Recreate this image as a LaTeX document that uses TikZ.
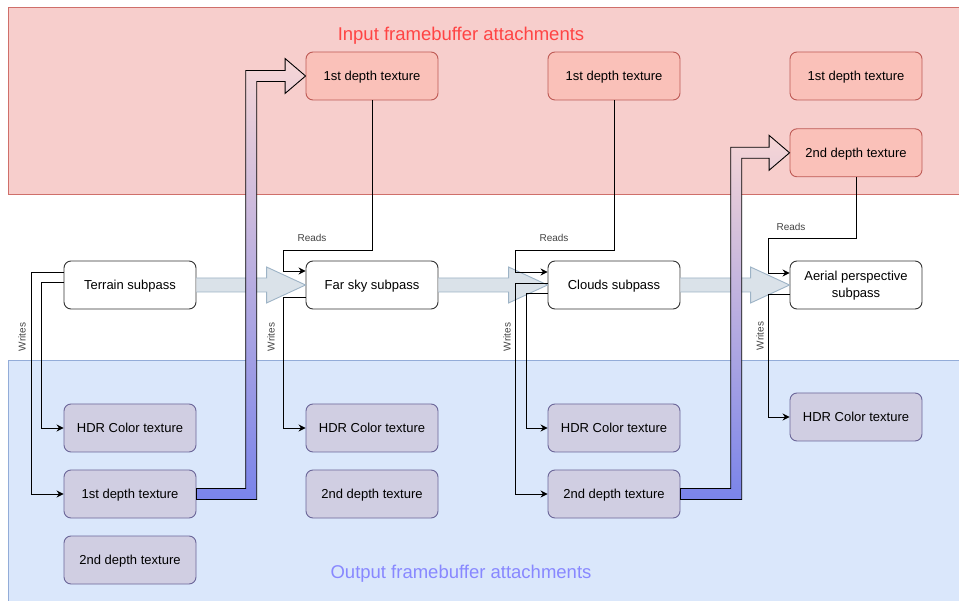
\documentclass[tikz,border=0pt]{standalone}
\usepackage{fontspec}
\setmainfont{Liberation Sans}
\usetikzlibrary{arrows.meta,calc}
\definecolor{pinkbg}{HTML}{F7CECC}
\definecolor{pinkln}{HTML}{CF6F6A}
\definecolor{bluebg}{HTML}{DAE7FB}
\definecolor{blueln}{HTML}{93ACD8}
\definecolor{infill}{HTML}{FAC1B9}
\definecolor{inln}{HTML}{BE5A55}
\definecolor{outfill}{HTML}{D0CEE2}
\definecolor{outln}{HTML}{6B6699}
\definecolor{passln}{HTML}{333333}
\definecolor{flexfill}{HTML}{DAE2E9}
\definecolor{flexln}{HTML}{9DB3C6}
\definecolor{titlered}{HTML}{FF4444}
\definecolor{titleblue}{HTML}{8888FF}
\definecolor{lblgray}{HTML}{444444}
\definecolor{fattop}{HTML}{F6D6D6}
\definecolor{fatbot}{HTML}{7A84EA}
\newcommand\flexarr[2]{%
  \fill[flexfill] ($(#1.east)+(0,-7)$) -- ($(#2.west)+(-39,-7)$) -- ($(#2.west)+(-39,-18)$) -- (#2.west) -- ($(#2.west)+(-39,18)$) -- ($(#2.west)+(-39,7)$) -- ($(#1.east)+(0,7)$) -- cycle;
  \draw[flexln, line width=0.9pt, line join=miter] ($(#1.east)+(0,-7)$) -- ($(#2.west)+(-39,-7)$) -- ($(#2.west)+(-39,-18)$) -- (#2.west) -- ($(#2.west)+(-39,18)$) -- ($(#2.west)+(-39,7)$) -- ($(#1.east)+(0,7)$);
}
\newcommand\fatarr[3]{%
  \path[draw=black, line width=0.9pt, top color=fattop, bottom color=fatbot] let \p1=(#1.east), \p2=(#2.west) in
  (\x1,\y1+5.5pt) -- (#3pt-5.5pt,\y1+5.5pt) -- (#3pt-5.5pt,\y2+5.5pt) -- (\x2-20.5pt,\y2+5.5pt) -- (\x2-20.5pt,\y2+17.5pt) -- (\x2,\y2) -- (\x2-20.5pt,\y2-17.5pt) -- (\x2-20.5pt,\y2-5.5pt) -- (#3pt+5.5pt,\y2-5.5pt) -- (#3pt+5.5pt,\y1-5.5pt) -- (\x1,\y1-5.5pt) -- cycle;
}
\begin{document}
\begin{tikzpicture}[x=1pt,y=-1pt,
  passbox/.style={draw=passln, fill=white, rounded corners=7pt, minimum width=132pt, minimum height=48pt, inner sep=0pt, font=\fontsize{13}{16.5}\selectfont, text=black, line width=0.9pt, align=center, text depth=1pt},
  inbox/.style={passbox, draw=inln, fill=infill},
  outbox/.style={passbox, draw=outln, fill=outfill},
  wire/.style={draw=black, line width=0.9pt, -{Stealth[length=7pt,width=7pt]}},
  lbl/.style={font=\fontsize{10}{12}\selectfont, text=lblgray, inner sep=0pt},
  ttl/.style={font=\fontsize{18.5}{22}\selectfont, inner sep=0pt}]
\useasboundingbox (0,0) rectangle (959,601);
\fill[white] (0,0) rectangle (959,601);
% backgrounds
\draw[fill=pinkbg, draw=pinkln, line width=0.8pt] (8,7) rectangle (970,194);
\draw[fill=bluebg, draw=blueln, line width=0.8pt] (8,360) rectangle (970,615);
\node[ttl, text=titlered] (tin) at (461,35.5) {Input framebuffer attachments};
\node[ttl, text=titleblue] (tout) at (461,573.5) {Output framebuffer attachments};
% passes
\node[passbox] (terrain) at (130,285) {Terrain subpass};
\node[passbox] (sky) at (372,285) {Far sky subpass};
\node[passbox] (clouds) at (614,285) {Clouds subpass};
\node[passbox] (aerial) at (856,285) {Aerial perspective\\subpass};
% inputs
\node[inbox] (i1) at (372,76) {1st depth texture};
\node[inbox] (i2) at (614,76) {1st depth texture};
\node[inbox] (i3) at (856,76) {1st depth texture};
\node[inbox] (i4) at (856,152.8) {2nd depth texture};
% outputs
\node[outbox] (o1h) at (130,428) {HDR Color texture};
\node[outbox] (o1d) at (130,494) {1st depth texture};
\node[outbox] (o1e) at (130,560) {2nd depth texture};
\node[outbox] (o2h) at (372,428) {HDR Color texture};
\node[outbox] (o2d) at (372,494) {2nd depth texture};
\node[outbox] (o3h) at (614,428) {HDR Color texture};
\node[outbox] (o3d) at (614,494) {2nd depth texture};
\node[outbox] (o4h) at (856,417) {HDR Color texture};
% flow arrows
\flexarr{terrain}{sky}
\flexarr{sky}{clouds}
\flexarr{clouds}{aerial}
% fat gradient arrows
\fatarr{o1d}{i1}{251.2}
\fatarr{o3d}{i4}{736.2}
% column 1
\draw[wire] ([yshift=13pt]terrain.west) -- ++(-32,0) |- (o1d.west);
\draw[wire] ([yshift=3pt]terrain.west) -- ++(-22,0) |- (o1h.west);
\node[lbl, rotate=90] (w1) at (22,337) {Writes};
% column 2
\draw[wire] (i1.south) -- ++(0,150) -| ([xshift=-22pt,yshift=14pt]sky.west) -- ([yshift=14pt]sky.west);
\node[lbl] (r2) at (312,238) {Reads};
\draw[wire] ([yshift=-12pt]sky.west) -- ++(-22,0) |- (o2h.west);
\node[lbl, rotate=90] (w2) at (271,337) {Writes};
% column 3
\draw[wire] (i2.south) -- ++(0,150) -| ([xshift=-32pt,yshift=13pt]clouds.west) -- ([yshift=13pt]clouds.west);
\node[lbl] (r3) at (554,238) {Reads};
\draw[wire] ([yshift=2pt]clouds.west) -- ++(-32,0) |- (o3d.west);
\draw[wire] ([yshift=-8pt]clouds.west) -- ++(-21,0) |- (o3h.west);
\node[lbl, rotate=90] (w3) at (507,337) {Writes};
% column 4
\draw[wire] (i4.south) -- ++(0,61) -| ([xshift=-21pt,yshift=12pt]aerial.west) -- ([yshift=12pt]aerial.west);
\node[lbl] (r4) at (791,227) {Reads};
\draw[wire] ([yshift=-9pt]aerial.west) -- ++(-21,0) |- (o4h.west);
\node[lbl, rotate=90] (w4) at (760,336) {Writes};
\end{tikzpicture}
\end{document}
